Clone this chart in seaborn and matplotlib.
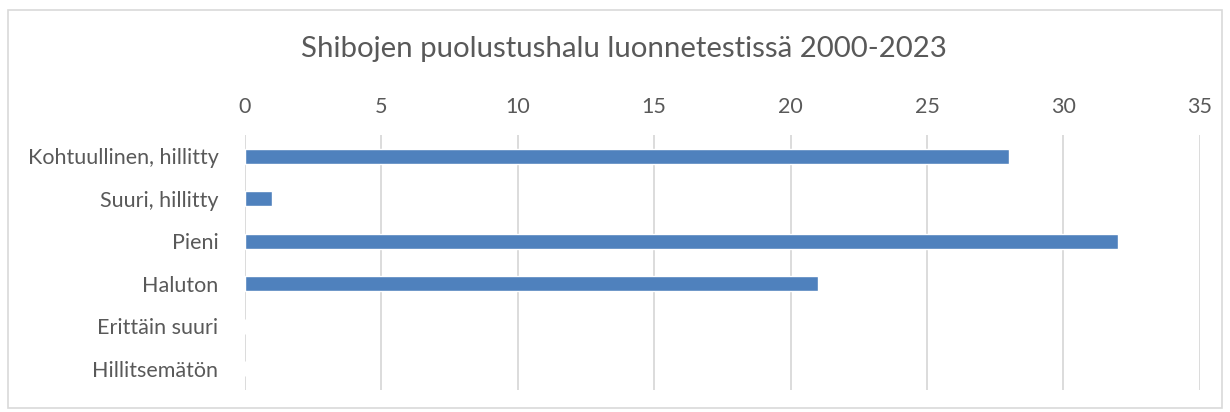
import matplotlib
matplotlib.use("Agg")
import matplotlib.pyplot as plt
import seaborn as sns
import pandas as pd
from matplotlib.patches import Rectangle

# Data
categories = [
    "Kohtuullinen, hillitty",
    "Suuri, hillitty",
    "Pieni",
    "Haluton",
    "Erittäin suuri",
    "Hillitsemätön",
]
counts = [28, 1, 32, 21, 0, 0]
x_ticks = [0, 5, 10, 15, 20, 25, 30, 35]

df = pd.DataFrame({"luokka": categories, "maara": counts})

sns.set_theme(style="white")
plt.rcParams["font.family"] = ["Lato", "DejaVu Sans"]

text_color = "#595959"
bar_color = "#4F81BD"
grid_color = "#D9D9D9"

fig = plt.figure(figsize=(12.3, 4.12), dpi=100)
ax = fig.add_axes([0.199, 0.053, 0.7765, 0.619])

sns.barplot(
    data=df,
    x="maara",
    y="luokka",
    orient="h",
    color=bar_color,
    width=0.35,
    saturation=1,
    ax=ax,
)

ax.set_xlim(0, 35)
ax.set_xticks(x_ticks)
ax.xaxis.tick_top()
ax.tick_params(axis="both", length=0, colors=text_color, labelsize=15.5)
ax.tick_params(axis="x", pad=13)
ax.tick_params(axis="y", pad=19)
ax.set_xlabel("")
ax.set_ylabel("")
ax.grid(axis="x", color=grid_color, linewidth=1.3)
ax.set_axisbelow(True)
for s in ax.spines.values():
    s.set_visible(False)

fig.text(
    0.507, 0.88,
    "Shibojen puolustushalu luonnetestissä 2000-2023",
    ha="center", va="center", fontsize=21.2, color=text_color,
)

# chart frame
fig.patches.append(Rectangle(
    (8 / 1230, 4 / 412), 1214 / 1230, 398 / 412,
    transform=fig.transFigure, fill=False,
    edgecolor=grid_color, linewidth=1.2,
))

plt.savefig("out.png", dpi=100)
plt.close()
